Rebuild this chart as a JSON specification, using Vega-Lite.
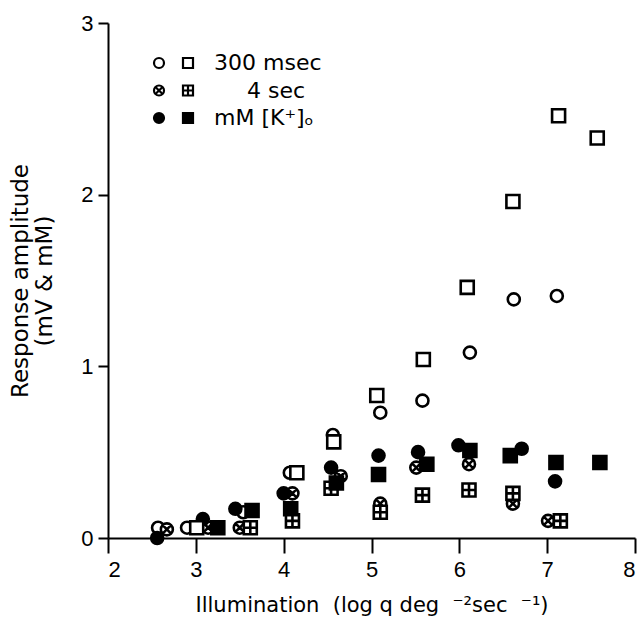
{
  "$schema": "https://vega.github.io/schema/vega-lite/v6.json",
  "width": 527,
  "height": 515,
  "autosize": {"type": "none"},
  "padding": {"left": 108, "top": 23, "right": 7, "bottom": 98},
  "background": "white",
  "config": {
    "view": {"stroke": null},
    "axis": {
      "grid": false,
      "domainColor": "black",
      "domainWidth": 2,
      "tickColor": "black",
      "tickWidth": 2,
      "labelFont": "Liberation Sans",
      "labelFontSize": 22,
      "labelColor": "black",
      "titleFont": "DejaVu Sans",
      "titleFontSize": 21,
      "titleFontWeight": "normal",
      "titleColor": "black"
    },
    "legend": {
      "labelFont": "DejaVu Sans",
      "labelFontSize": 22,
      "labelColor": "black",
      "symbolSize": 100,
      "symbolStrokeWidth": 2.2,
      "rowPadding": 5.5,
      "labelOffset": 15
    }
  },
  "data": {
    "values": [
      {"x": 2.57, "y": 0.06, "cond": "300 msec", "mk": "circle"},
      {"x": 2.90, "y": 0.06, "cond": "300 msec", "mk": "circle"},
      {"x": 3.54, "y": 0.15, "cond": "300 msec", "mk": "circle"},
      {"x": 4.07, "y": 0.38, "cond": "300 msec", "mk": "circle"},
      {"x": 4.56, "y": 0.60, "cond": "300 msec", "mk": "circle"},
      {"x": 5.10, "y": 0.73, "cond": "300 msec", "mk": "circle"},
      {"x": 5.58, "y": 0.80, "cond": "300 msec", "mk": "circle"},
      {"x": 6.12, "y": 1.08, "cond": "300 msec", "mk": "circle"},
      {"x": 6.62, "y": 1.39, "cond": "300 msec", "mk": "circle"},
      {"x": 7.11, "y": 1.41, "cond": "300 msec", "mk": "circle"},
      {"x": 2.67, "y": 0.05, "cond": "4 sec", "mk": "circle"},
      {"x": 3.14, "y": 0.06, "cond": "4 sec", "mk": "circle"},
      {"x": 3.50, "y": 0.06, "cond": "4 sec", "mk": "circle"},
      {"x": 4.10, "y": 0.26, "cond": "4 sec", "mk": "circle"},
      {"x": 4.65, "y": 0.36, "cond": "4 sec", "mk": "circle"},
      {"x": 5.10, "y": 0.20, "cond": "4 sec", "mk": "circle"},
      {"x": 5.51, "y": 0.41, "cond": "4 sec", "mk": "circle"},
      {"x": 6.11, "y": 0.43, "cond": "4 sec", "mk": "circle"},
      {"x": 6.61, "y": 0.20, "cond": "4 sec", "mk": "circle"},
      {"x": 7.01, "y": 0.10, "cond": "4 sec", "mk": "circle"},
      {"x": 2.56, "y": 0.00, "cond": "mM [K⁺]ₒ", "mk": "circle"},
      {"x": 3.08, "y": 0.11, "cond": "mM [K⁺]ₒ", "mk": "circle"},
      {"x": 3.45, "y": 0.17, "cond": "mM [K⁺]ₒ", "mk": "circle"},
      {"x": 4.00, "y": 0.26, "cond": "mM [K⁺]ₒ", "mk": "circle"},
      {"x": 4.54, "y": 0.41, "cond": "mM [K⁺]ₒ", "mk": "circle"},
      {"x": 5.08, "y": 0.48, "cond": "mM [K⁺]ₒ", "mk": "circle"},
      {"x": 5.53, "y": 0.50, "cond": "mM [K⁺]ₒ", "mk": "circle"},
      {"x": 5.99, "y": 0.54, "cond": "mM [K⁺]ₒ", "mk": "circle"},
      {"x": 6.71, "y": 0.52, "cond": "mM [K⁺]ₒ", "mk": "circle"},
      {"x": 7.09, "y": 0.33, "cond": "mM [K⁺]ₒ", "mk": "circle"},
      {"x": 3.01, "y": 0.06, "cond": "300 msec", "mk": "square"},
      {"x": 4.15, "y": 0.38, "cond": "300 msec", "mk": "square"},
      {"x": 4.57, "y": 0.56, "cond": "300 msec", "mk": "square"},
      {"x": 5.06, "y": 0.83, "cond": "300 msec", "mk": "square"},
      {"x": 5.59, "y": 1.04, "cond": "300 msec", "mk": "square"},
      {"x": 6.09, "y": 1.46, "cond": "300 msec", "mk": "square"},
      {"x": 6.61, "y": 1.96, "cond": "300 msec", "mk": "square"},
      {"x": 7.13, "y": 2.46, "cond": "300 msec", "mk": "square"},
      {"x": 7.57, "y": 2.33, "cond": "300 msec", "mk": "square"},
      {"x": 3.62, "y": 0.06, "cond": "4 sec", "mk": "square"},
      {"x": 4.10, "y": 0.10, "cond": "4 sec", "mk": "square"},
      {"x": 4.54, "y": 0.29, "cond": "4 sec", "mk": "square"},
      {"x": 5.10, "y": 0.15, "cond": "4 sec", "mk": "square"},
      {"x": 5.58, "y": 0.25, "cond": "4 sec", "mk": "square"},
      {"x": 6.11, "y": 0.28, "cond": "4 sec", "mk": "square"},
      {"x": 6.61, "y": 0.26, "cond": "4 sec", "mk": "square"},
      {"x": 7.15, "y": 0.10, "cond": "4 sec", "mk": "square"},
      {"x": 3.25, "y": 0.06, "cond": "mM [K⁺]ₒ", "mk": "square"},
      {"x": 3.64, "y": 0.16, "cond": "mM [K⁺]ₒ", "mk": "square"},
      {"x": 4.08, "y": 0.17, "cond": "mM [K⁺]ₒ", "mk": "square"},
      {"x": 4.60, "y": 0.32, "cond": "mM [K⁺]ₒ", "mk": "square"},
      {"x": 5.08, "y": 0.37, "cond": "mM [K⁺]ₒ", "mk": "square"},
      {"x": 5.63, "y": 0.43, "cond": "mM [K⁺]ₒ", "mk": "square"},
      {"x": 6.12, "y": 0.51, "cond": "mM [K⁺]ₒ", "mk": "square"},
      {"x": 6.58, "y": 0.48, "cond": "mM [K⁺]ₒ", "mk": "square"},
      {"x": 7.10, "y": 0.44, "cond": "mM [K⁺]ₒ", "mk": "square"},
      {"x": 7.60, "y": 0.44, "cond": "mM [K⁺]ₒ", "mk": "square"}
    ]
  },
  "encoding": {
    "x": {
      "field": "x",
      "type": "quantitative",
      "scale": {"domain": [2, 8], "nice": false, "zero": false},
      "axis": {
        "values": [2, 3, 4, 5, 6, 7, 8],
        "tickSize": 15,
        "labelPadding": 6,
        "titlePadding": 14,
        "title": "Illumination\u00a0\u00a0(log q deg\u00a0\u00a0⁻²sec\u00a0\u00a0⁻¹)"
      }
    },
    "y": {
      "field": "y",
      "type": "quantitative",
      "scale": {"domain": [0, 3], "nice": false, "zero": false},
      "axis": {
        "values": [0, 1, 2, 3],
        "tickSize": 10,
        "labelPadding": 5,
        "titlePadding": 24,
        "titleFontSize": 23,
        "titleLineHeight": 24,
        "title": ["Response amplitude", "(mV & mM)"]
      }
    }
  },
  "layer": [
    {
      "transform": [{"filter": "datum.mk === 'circle'"}],
      "mark": {"type": "point", "filled": true, "size": 144, "strokeWidth": 2.6, "opacity": 1},
      "encoding": {
        "strokeWidth": {"value": 2.6},
        "shape": {
          "field": "cond", "type": "nominal",
          "scale": {"domain": ["300 msec", "4 sec", "mM [K⁺]ₒ"], "range": ["circle", "M-1,0A1,1,0,1,1,1,0A1,1,0,1,1,-1,0ZM-0.707,-0.707L0.707,0.707M-0.707,0.707L0.707,-0.707", "circle"]},
          "legend": {"orient": "none", "legendX": 40, "legendY": 29, "title": null, "labelExpr": "''"}
        },
        "fill": {
          "field": "cond", "type": "nominal",
          "scale": {"domain": ["300 msec", "4 sec", "mM [K⁺]ₒ"], "range": ["white", "white", "black"]},
          "legend": {"orient": "none", "legendX": 40, "legendY": 29, "title": null, "labelExpr": "''"}
        },
        "stroke": {
          "field": "cond", "type": "nominal",
          "scale": {"domain": ["300 msec", "4 sec", "mM [K⁺]ₒ"], "range": ["black", "black", "black"]},
          "legend": {"orient": "none", "legendX": 40, "legendY": 29, "title": null, "labelExpr": "''"}
        }
      }
    },
    {
      "transform": [{"filter": "datum.mk === 'square'"}],
      "mark": {"type": "point", "filled": true, "size": 169, "strokeWidth": 2.6, "opacity": 1},
      "encoding": {
        "strokeWidth": {"value": 2.6},
        "shape": {
          "field": "cond", "type": "nominal",
          "scale": {"domain": ["300 msec", "4 sec", "mM [K⁺]ₒ"], "range": ["square", "M-1,-1L1,-1L1,1L-1,1ZM0,-1L0,1M-1,0L1,0", "square"]},
          "legend": {"orient": "none", "legendX": 69, "legendY": 29, "title": null, "labelExpr": "datum.value == '4 sec' ? '\u2060\u2003\u20024 sec' : datum.label"}
        },
        "fill": {
          "field": "cond", "type": "nominal",
          "scale": {"domain": ["300 msec", "4 sec", "mM [K⁺]ₒ"], "range": ["white", "white", "black"]},
          "legend": {"orient": "none", "legendX": 69, "legendY": 29, "title": null, "labelExpr": "datum.value == '4 sec' ? '\u2060\u2003\u20024 sec' : datum.label"}
        },
        "stroke": {
          "field": "cond", "type": "nominal",
          "scale": {"domain": ["300 msec", "4 sec", "mM [K⁺]ₒ"], "range": ["black", "black", "black"]},
          "legend": {"orient": "none", "legendX": 69, "legendY": 29, "title": null, "labelExpr": "datum.value == '4 sec' ? '\u2060\u2003\u20024 sec' : datum.label"}
        }
      }
    }
  ],
  "resolve": {
    "scale": {"shape": "independent", "fill": "independent", "stroke": "independent"},
    "legend": {"shape": "independent", "fill": "independent", "stroke": "independent"}
  }
}
